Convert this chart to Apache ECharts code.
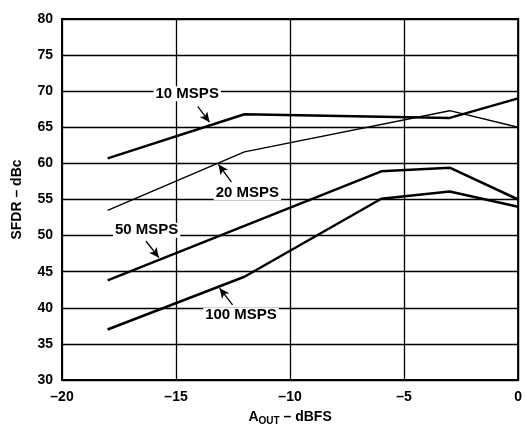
<!DOCTYPE html>
<html><head><meta charset="utf-8">
<script src="https://cdn.jsdelivr.net/npm/echarts@6/dist/echarts.min.js"></script>
<style>html,body{margin:0;padding:0;background:#fff}#c{width:525px;height:431px}</style>
</head><body><div id="c"></div>
<script>
// Data (x = AOUT dBFS, y = SFDR dBc)
var msps10 = [[-18, 60.7], [-12, 66.8], [-3, 66.3], [0, 69.0]];
var msps20 = [[-18, 53.5], [-12, 61.6], [-3, 67.3], [0, 65.0]];
var msps50 = [[-18, 43.8], [-6, 58.9], [-3, 59.4], [0, 55.0]];
var msps100 = [[-18, 37.0], [-12, 44.3], [-6, 55.1], [-3, 56.1], [0, 54.0]];
var xTicks = [-20, -15, -10, -5, 0];
var yTicks = [30, 35, 40, 45, 50, 55, 60, 65, 70, 75, 80];
// annotation label positions and arrows in data coordinates
var labelNames = ['10 MSPS', '20 MSPS', '50 MSPS', '100 MSPS'];
var labelPos = [[-14.51, 69.66], [-11.87, 55.92], [-16.29, 50.75], [-12.15, 38.98]];
var arrowFrom = [[-14.05, 67.89], [-12.57, 57.41], [-16.32, 49.25], [-12.52, 40.41]];
var arrowTo = [[-13.53, 65.71], [-13.14, 59.86], [-15.75, 46.94], [-13.09, 42.72]];

var FONT = '"Liberation Sans", Arial, Helvetica, sans-serif';
var chart = echarts.init(document.getElementById('c'), null, {renderer: 'canvas'});
function lineSeries(name, data, w) {
  return {name: name, type: 'line', data: data, symbol: 'none', silent: true,
    lineStyle: {color: '#000', width: w}, z: 3};
}
var arrows = [];
for (var i = 0; i < arrowFrom.length; i++) {
  arrows.push([{coord: arrowFrom[i], symbol: 'none'}, {coord: arrowTo[i], symbol: 'arrow'}]);
}
var labelData = labelPos.map(function (p, i) { return {value: p, name: labelNames[i]}; });
chart.setOption({
  animation: false,
  backgroundColor: '#fff',
  grid: {left: 62, right: 5, top: 19, bottom: 44, show: true, borderColor: '#000', borderWidth: 2, backgroundColor: 'transparent'},
  xAxis: {
    type: 'value', min: xTicks[0], max: xTicks[xTicks.length - 1], interval: 5,
    axisLine: {show: false}, axisTick: {show: false},
    splitLine: {show: true, lineStyle: {color: '#000', width: 1.3}},
    axisLabel: {color: '#000', fontFamily: FONT, fontWeight: 'bold', fontSize: 14, margin: 10,
      formatter: function (v) { return String(v).replace('-', '\u2013'); }},
    name: '{a|A}{s|OUT}{a| \u2013 dBFS}', nameLocation: 'middle', nameGap: 29,
    nameTextStyle: {rich: {
      a: {fontFamily: FONT, fontWeight: 'bold', fontSize: 14, color: '#000'},
      s: {fontFamily: FONT, fontWeight: 'bold', fontSize: 10, color: '#000', padding: [7, 0, 0, 0]}
    }}
  },
  yAxis: {
    type: 'value', min: yTicks[0], max: yTicks[yTicks.length - 1], interval: 5,
    axisLine: {show: false}, axisTick: {show: false},
    splitLine: {show: true, lineStyle: {color: '#000', width: 1.3}},
    axisLabel: {color: '#000', fontFamily: FONT, fontWeight: 'bold', fontSize: 14, margin: 9},
    name: 'SFDR \u2013 dBc', nameLocation: 'middle', nameGap: 38,
    nameTextStyle: {color: '#000', fontFamily: FONT, fontWeight: 'bold', fontSize: 14}
  },
  series: [
    lineSeries('10 MSPS', msps10, 2.5),
    lineSeries('20 MSPS', msps20, 1.4),
    lineSeries('50 MSPS', msps50, 2.5),
    lineSeries('100 MSPS', msps100, 2.5),
    {type: 'scatter', data: labelData, symbolSize: 0, silent: true, z: 5,
      itemStyle: {opacity: 1, color: '#000'},
      label: {show: true, position: 'inside', formatter: '{b}', color: '#000', opacity: 1,
        fontFamily: FONT, fontWeight: 'bold', fontSize: 15, backgroundColor: '#fff', padding: [0, 2]},
      markLine: {silent: true, symbolSize: [7, 10], label: {show: false},
        lineStyle: {color: '#000', width: 1.3, type: 'solid', opacity: 1}, data: arrows}
    }
  ]
});
</script></body></html>
